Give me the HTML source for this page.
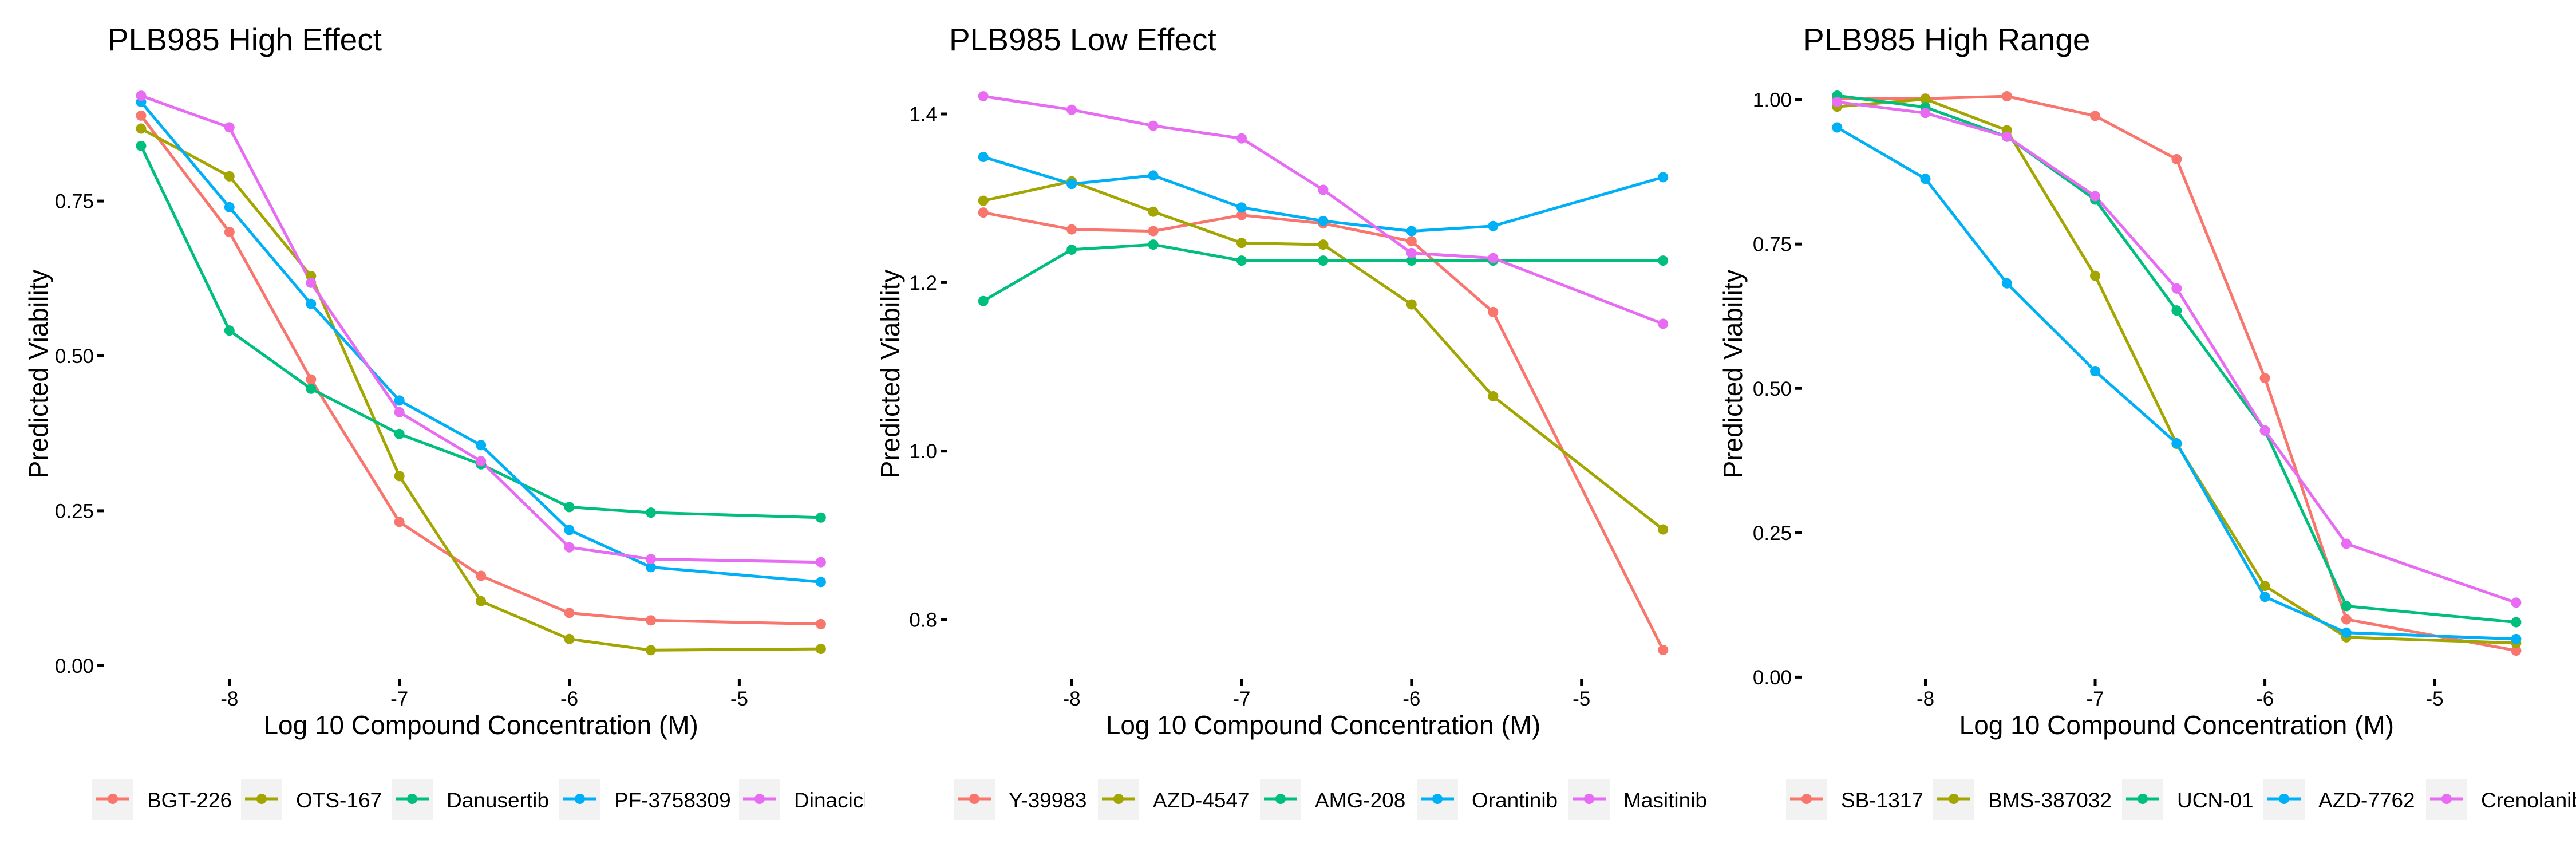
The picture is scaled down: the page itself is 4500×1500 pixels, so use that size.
<!DOCTYPE html>
<html><head><meta charset="utf-8"><style>
html,body{margin:0;padding:0;background:#fff;}
svg{display:block;font-family:"Liberation Sans",Arial,sans-serif;}
</style></head><body>
<svg id="chart" width="4500" height="1500" xmlns="http://www.w3.org/2000/svg">
<rect width="4500" height="1500" fill="#fff"/>
<defs><clipPath id="clip1"><rect x="0" y="0" width="1511" height="1500"/></clipPath></defs>
</svg>
<script>
const colors = ["#F8766D","#A3A500","#00BF7D","#00B0F6","#E76BF3"];
const xValues = [-8.52,-8,-7.52,-7,-6.52,-6,-5.52,-4.52];
const xTicks = [-8,-7,-6,-5];
const titles = ["PLB985 High Effect","PLB985 Low Effect","PLB985 High Range"];
const names1 = ["BGT-226","OTS-167","Danusertib","PF-3758309","Dinaciclib"];
const names2 = ["Y-39983","AZD-4547","AMG-208","Orantinib","Masitinib"];
const names3 = ["SB-1317","BMS-387032","UCN-01","AZD-7762","Crenolanib"];
const yTicks1 = [0,0.25,0.5,0.75];
const yTickLabels1 = ["0.00","0.25","0.50","0.75"];
const yTicks2 = [0.8,1.0,1.2,1.4];
const yTickLabels2 = ["0.8","1.0","1.2","1.4"];
const yTicks3 = [0,0.25,0.5,0.75,1.0];
const yTickLabels3 = ["0.00","0.25","0.50","0.75","1.00"];
const p1BGT226 = [0.888,0.700,0.462,0.232,0.145,0.085,0.073,0.067];
const p1OTS167 = [0.867,0.790,0.629,0.306,0.104,0.043,0.025,0.027];
const p1Danusertib = [0.839,0.541,0.447,0.374,0.325,0.256,0.247,0.239];
const p1PF3758309 = [0.910,0.740,0.584,0.428,0.356,0.219,0.159,0.135];
const p1Dinaciclib = [0.920,0.869,0.618,0.409,0.330,0.191,0.172,0.167];
const p2Y39983 = [1.283,1.263,1.261,1.280,1.270,1.249,1.165,0.764];
const p2AZD4547 = [1.297,1.320,1.284,1.247,1.245,1.174,1.065,0.907];
const p2AMG208 = [1.178,1.239,1.245,1.226,1.226,1.226,1.226,1.226];
const p2Orantinib = [1.349,1.317,1.327,1.289,1.273,1.261,1.267,1.325];
const p2Masitinib = [1.421,1.405,1.386,1.371,1.310,1.235,1.229,1.151];
const p3SB1317 = [1.002,1.002,1.006,0.972,0.897,0.518,0.100,0.046];
const p3BMS387032 = [0.988,1.001,0.947,0.695,0.404,0.158,0.069,0.059];
const p3UCN01 = [1.007,0.987,0.936,0.827,0.635,0.427,0.123,0.095];
const p3AZD7762 = [0.952,0.863,0.682,0.530,0.405,0.139,0.077,0.066];
const p3Crenolanib = [0.996,0.977,0.936,0.833,0.673,0.427,0.231,0.129];

const NS="http://www.w3.org/2000/svg";
const svg=document.getElementById('chart');
function mk(tag,attrs,parent,text){const e=document.createElementNS(NS,tag);for(const k in attrs)e.setAttribute(k,attrs[k]);if(text!==undefined)e.textContent=text;(parent||svg).appendChild(e);return e;}

const panels=[
 {title:titles[0],names:names1,series:[p1BGT226,p1OTS167,p1Danusertib,p1PF3758309,p1Dinaciclib],yt:yTicks1,ytl:yTickLabels1,
  x8:400.8,x5:1291.4,yA:0,pA:1162.3,yB:0.75,pB:351.1,titleX:188,ytitleX:67,tickEnd:182,
  keys:[161,421,684,977,1291],clip:true},
 {title:titles[1],names:names2,series:[p2Y39983,p2AZD4547,p2AMG208,p2Orantinib,p2Masitinib],yt:yTicks2,ytl:yTickLabels2,
  x8:1872.1,x5:2762.7,yA:0.8,pA:1082,yB:1.4,pB:199,titleX:1658,ytitleX:1555,tickEnd:1655,
  keys:[1666,1918,2201,2475,2740]},
 {title:titles[2],names:names3,series:[p3SB1317,p3BMS387032,p3UCN01,p3AZD7762,p3Crenolanib],yt:yTicks3,ytl:yTickLabels3,
  x8:3363.5,x5:4253.1,yA:0,pA:1182.4,yB:1.0,pB:174.1,titleX:3150,ytitleX:3027,tickEnd:3148,
  keys:[3120,3377,3707,3954,4238]}
];

panels.forEach((p,pi)=>{
  const g=mk('g',{});
  
  
  if(p.clip) g.setAttribute('clip-path','url(#clip1)');
  const sx=v=>p.x8+(v+8)*(p.x5-p.x8)/3;
  const sy=v=>p.pA+(v-p.yA)*(p.pB-p.pA)/(p.yB-p.yA);
  const t=mk('text',{x:p.titleX,y:88,'font-size':55,fill:'#000'},g,p.title);
  
  
  p.yt.forEach((v,i)=>{
    const y=sy(v);
    mk('line',{x1:p.tickEnd-12,x2:p.tickEnd,y1:y,y2:y,stroke:'#000','stroke-width':5},g);
    const tl=mk('text',{x:p.tickEnd-18,y:y+12.5,'font-size':35,'text-anchor':'end',fill:'#000'},g,p.ytl[i]);
    
    
  });
  xTicks.forEach(v=>{
    const x=sx(v);
    mk('line',{x1:x,x2:x,y1:1186,y2:1198,stroke:'#000','stroke-width':5},g);
    const tl=mk('text',{x:x,y:1232,'font-size':35,'text-anchor':'middle',fill:'#000'},g,String(v));
    
    
  });
  const cx=(sx(-8.72)+sx(-4.32))/2;
  const xt=mk('text',{x:cx,y:1282,'font-size':46,'text-anchor':'middle',fill:'#000'},g,'Log 10 Compound Concentration (M)');
  
  
  const yt=mk('text',{x:0,y:0,'font-size':46,'text-anchor':'middle',fill:'#000',transform:`translate(${p.ytitleX+16},653) rotate(-90)`},g,'Predicted Viability');
  
  
  p.series.forEach((s,si)=>{
    const pts=s.map((v,i)=>sx(xValues[i]).toFixed(1)+','+sy(v).toFixed(1)).join(' ');
    const pl=mk('polyline',{points:pts,fill:'none',stroke:colors[si],'stroke-width':5,'stroke-linejoin':'round'},g);
    
    
  });
  p.series.forEach((s,si)=>{
    s.forEach((v,i)=>{
      const c=mk('circle',{cx:sx(xValues[i]),cy:sy(v),r:9,fill:colors[si]},g);
      
      
    });
  });
  p.names.forEach((n,ni)=>{
    const kx=p.keys[ni];
    const lg=mk('g',{},g);
    
    
    mk('rect',{x:kx,y:1360,width:72,height:72,fill:'#f2f2f2'},lg);
    mk('line',{x1:kx+7,x2:kx+65,y1:1395,y2:1395,stroke:colors[ni],'stroke-width':5},lg);
    mk('circle',{cx:kx+36,cy:1395,r:9,fill:colors[ni]},lg);
    mk('text',{x:kx+96,y:1410,'font-size':37,fill:'#000'},lg,n);
  });
});
</script>
</body></html>
